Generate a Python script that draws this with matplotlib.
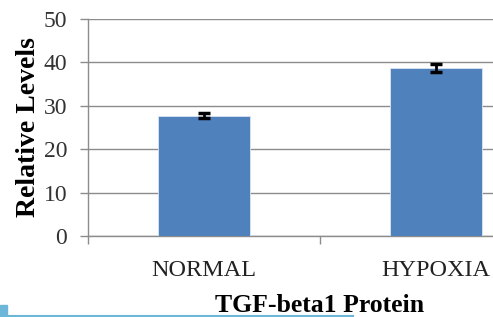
import matplotlib.pyplot as plt
from matplotlib.patches import Rectangle
from matplotlib.lines import Line2D

categories = ['NORMAL', 'HYPOXIA']
levels = [27.7, 38.8]
errors = [0.6, 0.9]
y_ticks = [0, 10, 20, 30, 40, 50]

W, H = 493, 317
fig = plt.figure(figsize=(W / 100, H / 100), dpi=100)
plt.rcParams['font.family'] = ['Liberation Serif', 'DejaVu Serif']

# axes run past the right edge of the picture (chart was cropped)
ax = fig.add_axes([88 / W, 81 / H, 464 / W, 217 / H])
x = list(range(len(categories)))
grid_c = '#8c8c8c'

ax.bar(x, levels, width=0.4, color='#4f81bd', edgecolor='#dbe5f1',
       linewidth=0.6, zorder=3)
ax.errorbar(x, levels, yerr=errors, fmt='none', ecolor='black',
            elinewidth=2, capsize=4.5, capthick=2.5, zorder=4)

ax.set_xlim(-0.5, len(categories) - 0.5)
ax.set_ylim(0, 50)
ax.set_yticks(y_ticks)
ax.set_xticks(x)
ax.set_xticklabels(categories)
ax.set_xticks([i - 0.5 for i in range(len(categories) + 1)], minor=True)
ax.tick_params(axis='x', which='major', length=0, pad=17,
               labelsize=17.5, labelcolor='#222222')
ax.tick_params(axis='x', which='minor', length=6, width=1, color=grid_c)
ax.tick_params(axis='y', length=6, width=1, color=grid_c, pad=9,
               labelsize=17, labelcolor='#333333')
ax.yaxis.grid(True, color=grid_c, linewidth=1, zorder=0)
ax.set_axisbelow(True)
for s in ['top', 'right']:
    ax.spines[s].set_visible(False)
for s in ['left', 'bottom']:
    ax.spines[s].set_color(grid_c)
    ax.spines[s].set_linewidth(1)

ax.set_ylabel('Relative Levels', fontsize=20, fontweight='bold', labelpad=2)
# x label sits at the very bottom edge, as in the cropped original
fig.text(320 / W, 0.5 / H, 'TGF-beta1 Protein', ha='center', va='bottom',
         fontsize=18.5, fontweight='bold')

# page decoration at the bottom
fig.add_artist(Line2D([0, 353 / W], [1.5 / H, 1.5 / H], color='#6cb6d9',
                      linewidth=1.5, transform=fig.transFigure))
fig.add_artist(Rectangle((0, 1 / H), 7 / W, 11 / H, color='#6cb6d9',
                         transform=fig.transFigure))

fig.savefig('out.png', dpi=100)
